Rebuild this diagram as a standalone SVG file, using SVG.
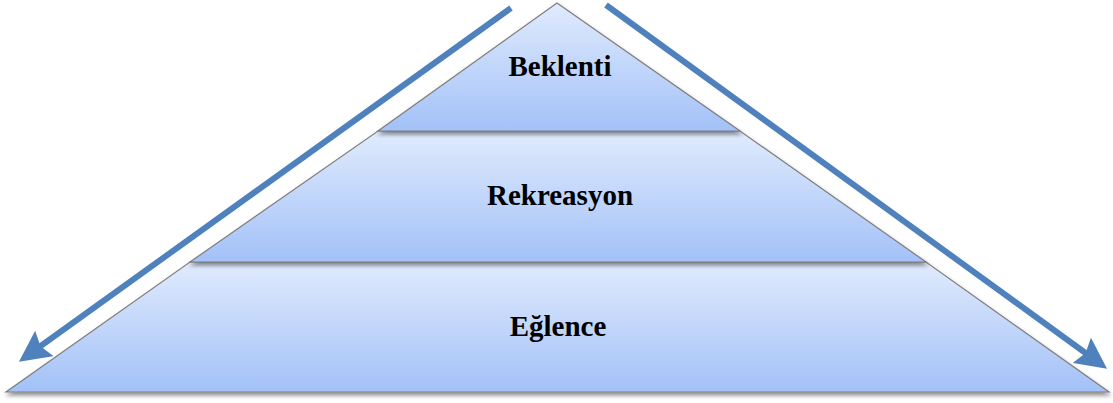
<svg xmlns="http://www.w3.org/2000/svg" width="1113" height="403" viewBox="0 0 1113 403">
<style>
.lvl{stroke:#7f7f7f;stroke-width:1.2;filter:url(#sh)}
.lbl{font-family:"Liberation Serif","Times New Roman",serif;font-weight:bold;font-size:29px;fill:#000;text-anchor:middle}
.arr{stroke:#4f81bd;stroke-width:6;fill:none;marker-end:url(#ah)}
</style>
<defs>
<linearGradient id="g" x1="0" y1="0" x2="0" y2="1">
<stop offset="0" stop-color="#e0ebfd"/>
<stop offset="1" stop-color="#a3c1f8"/>
</linearGradient>
<filter id="sh" x="-5%" y="-5%" width="110%" height="120%">
<feGaussianBlur in="SourceAlpha" stdDeviation="2"/>
<feOffset dx="1" dy="3" result="b"/>
<feComponentTransfer><feFuncA type="linear" slope="0.45"/></feComponentTransfer>
<feMerge><feMergeNode/><feMergeNode in="SourceGraphic"/></feMerge>
</filter>
<marker id="ah" viewBox="0 0 10 10" refX="8" refY="5" markerWidth="5.2" markerHeight="5.2" orient="auto" markerUnits="strokeWidth">
<path d="M0,0 L10,5 L0,10 L1.5,5 z" fill="#4f81bd"/>
</marker>
</defs>
<g id="level3">
<polygon class="lvl" fill="url(#g)" points="190,262 926,262 1109,392 6,392"/>
<text class="lbl" x="558" y="336">Eğlence</text>
</g>
<g id="level2">
<polygon class="lvl" fill="url(#g)" points="378,131 740,131 926,262 190,262"/>
<text class="lbl" x="560" y="205">Rekreasyon</text>
</g>
<g id="level1">
<polygon class="lvl" fill="url(#g)" points="557,3 740,131 378,131"/>
<text class="lbl" x="560" y="76">Beklenti</text>
</g>
<g id="connectors">
<line class="arr" x1="511" y1="8" x2="24" y2="358"/>
<line class="arr" x1="606" y1="5" x2="1102" y2="365"/>
</g>
</svg>
